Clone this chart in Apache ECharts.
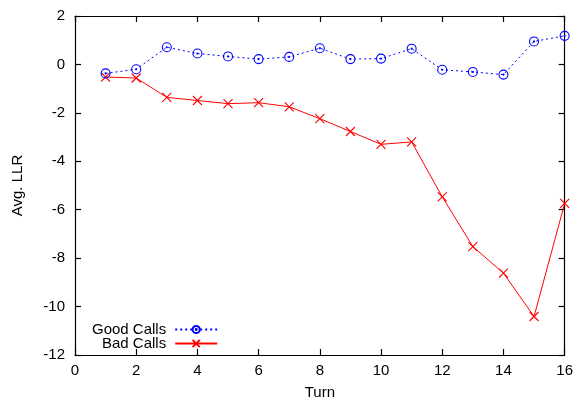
<!DOCTYPE html>
<html><head><meta charset="utf-8">
<script src="https://cdn.jsdelivr.net/npm/echarts@6/dist/echarts.min.js"></script>
<style>html,body{margin:0;padding:0;background:#fff}#c{width:576px;height:405px}</style>
</head><body><div id="c"></div>
<script>
const turns = [1,2,3,4,5,6,7,8,9,10,11,12,13,14,15,16];
const goodCalls = [-0.37,-0.2,0.71,0.45,0.33,0.22,0.31,0.67,0.22,0.24,0.65,-0.22,-0.31,-0.42,0.95,1.18];
const badCalls = [-0.52,-0.56,-1.36,-1.49,-1.62,-1.58,-1.75,-2.24,-2.77,-3.3,-3.2,-5.47,-7.52,-8.62,-10.41,-5.74];
const xTicks = {min:0, max:16, interval:2};
const yTicks = {min:-12, max:2, interval:2};

const font = 'Liberation Sans, Arial, Helvetica, sans-serif';
const fs = 15;
const circleDot = 'path://M0,5A5,5 0 1,1 10,5A5,5 0 1,1 0,5ZM4.4,5A0.6,0.6 0 1,1 5.6,5A0.6,0.6 0 1,1 4.4,5Z';
const cross = 'path://M0,0L10,10M10,0L0,10';

const chart = echarts.init(document.getElementById('c'), null, {renderer:'canvas'});
const axisCommon = {
  axisLine:{show:true, onZero:false, lineStyle:{color:'#000', width:1.2}},
  axisTick:{show:true, inside:true, length:6, lineStyle:{color:'#000', width:1.2}},
  splitLine:{show:false}
};
chart.setOption({
  animation:false,
  grid:{left:75, right:10, top:16, bottom:46, show:false},
  legend:{
    left:87, top:317, orient:'vertical', align:'right', itemGap:-1,
    itemWidth:42, itemHeight:9,
    textStyle:{fontFamily:font, fontSize:fs, color:'#000', padding:[0,4,0,0]},
    data:['Good Calls','Bad Calls']
  },
  xAxis:[
    Object.assign({type:'value', position:'bottom', min:xTicks.min, max:xTicks.max, interval:xTicks.interval,
      name:'Turn', nameLocation:'middle', nameGap:30,
      nameTextStyle:{fontFamily:font, fontSize:fs, color:'#000'},
      axisLabel:{fontFamily:font, fontSize:fs, color:'#000', margin:8}}, axisCommon),
    Object.assign({type:'value', position:'top', min:xTicks.min, max:xTicks.max, interval:xTicks.interval,
      axisLabel:{show:false}}, axisCommon)
  ],
  yAxis:[
    Object.assign({type:'value', position:'left', min:yTicks.min, max:yTicks.max, interval:yTicks.interval,
      name:'Avg. LLR', nameLocation:'middle', nameGap:50, nameRotate:90,
      nameTextStyle:{fontFamily:font, fontSize:fs, color:'#000'},
      axisLabel:{fontFamily:font, fontSize:fs, color:'#000', margin:10}}, axisCommon),
    Object.assign({type:'value', position:'right', min:yTicks.min, max:yTicks.max, interval:yTicks.interval,
      axisLabel:{show:false}}, axisCommon)
  ],
  series:[
    {name:'Good Calls', type:'line', data:turns.map((t,i)=>[t,goodCalls[i]]),
      symbol:circleDot, symbolSize:9, showAllSymbol:true,
      lineStyle:{color:'#0000ff', width:1, type:[2,3]},
      itemStyle:{color:'none', borderColor:'#0000ff', borderWidth:1.1}, z:3},
    {name:'Bad Calls', type:'line', data:turns.map((t,i)=>[t,badCalls[i]]),
      symbol:cross, symbolSize:9, showAllSymbol:true,
      lineStyle:{color:'#ff0000', width:1},
      itemStyle:{color:'none', borderColor:'#ff0000', borderWidth:1.1}, z:2}
  ]
});
</script></body></html>
